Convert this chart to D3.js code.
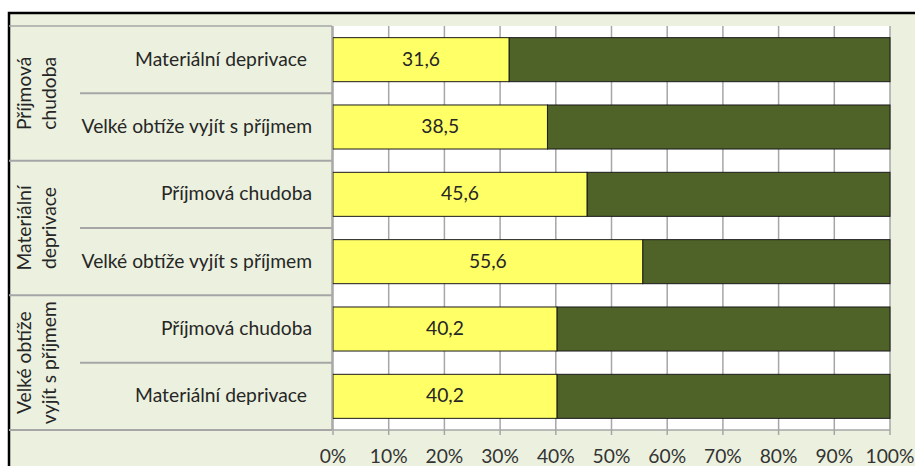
<!DOCTYPE html>
<html>
<head>
<meta charset="utf-8">
<script src="https://cdn.jsdelivr.net/npm/d3@7"></script>
<style>
  html, body { margin: 0; padding: 0; background: #fff; }
  svg { display: block; }
  text { font-family: Lato, "Open Sans", sans-serif; fill: #262626; }
</style>
</head>
<body>
<svg id="chart" width="915" height="466"></svg>
<script>
// ---- data ----
const groupLabels = [["Příjmová", "chudoba"], ["Materiální", "deprivace"], ["Velké obtíže", "vyjít s příjmem"]];
const categories = [
  "Materiální deprivace",
  "Velké obtíže vyjít s příjmem",
  "Příjmová chudoba",
  "Velké obtíže vyjít s příjmem",
  "Příjmová chudoba",
  "Materiální deprivace"
];
const groupOf = [0, 0, 1, 1, 2, 2];
const values = [31.6, 38.5, 45.6, 55.6, 40.2, 40.2];
const tickValues = [0, 10, 20, 30, 40, 50, 60, 70, 80, 90, 100];
const tickLabels = ["0%", "10%", "20%", "30%", "40%", "50%", "60%", "70%", "80%", "90%", "100%"];

// ---- layout ----
const W = 915, H = 466;
const plotL = 333, plotR = 890, plotT = 26, plotB = 430;
const panelL = 9, subL = 80;
const beige = "#EBF1DE", yellow = "#FFFF66", green = "#4F6228", grid = "#A6A6A6", sep = "#A6A6A6";

const svg = d3.select("#chart");

// fit font size to Calibri-like metrics
const probe = svg.append("text").attr("font-size", 20).text("Materiální deprivace");
const fs = Math.min(21, 20 * 172 / probe.node().getComputedTextLength());
probe.remove();

const x = d3.scaleLinear().domain([0, 100]).range([plotL, plotR]);
const y = d3.scaleBand().domain(d3.range(categories.length)).range([plotT, plotB])
  .paddingInner(0.346).paddingOuter(0.173);

// frame
svg.append("rect").attr("x", 0).attr("y", 0).attr("width", W).attr("height", H).attr("fill", "#fff");
svg.append("rect").attr("x", panelL).attr("y", 13).attr("width", W + 20).attr("height", H + 20)
  .attr("fill", beige).attr("stroke", "#000").attr("stroke-width", 2.5);

// plot background
svg.append("rect").attr("x", plotL).attr("y", plotT).attr("width", plotR - plotL).attr("height", plotB - plotT)
  .attr("fill", "#fff");

// gridlines / ticks
svg.append("g").selectAll("line").data(tickValues).join("line")
  .attr("x1", d => x(d)).attr("x2", d => x(d))
  .attr("y1", plotT).attr("y2", plotB + 5)
  .attr("stroke", grid).attr("stroke-width", 1.5);
svg.append("line").attr("x1", plotL).attr("x2", plotR).attr("y1", plotB).attr("y2", plotB)
  .attr("stroke", grid).attr("stroke-width", 1.5);

// tick labels
svg.append("g").selectAll("text").data(tickValues).join("text")
  .attr("x", d => x(d)).attr("y", 458)
  .attr("text-anchor", "middle").attr("dominant-baseline", "middle")
  .attr("font-size", fs).style("fill", "#333")
  .text((d, i) => tickLabels[i]);

// bars
const bars = svg.append("g");
bars.selectAll("rect.rest").data(values).join("rect").attr("class", "rest")
  .attr("x", d => x(d)).attr("width", d => x(100) - x(d))
  .attr("y", (d, i) => y(i)).attr("height", y.bandwidth())
  .attr("fill", green).attr("stroke", "#1a1a1a").attr("stroke-width", 1);
bars.selectAll("rect.val").data(values).join("rect").attr("class", "val")
  .attr("x", x(0)).attr("width", d => x(d) - x(0))
  .attr("y", (d, i) => y(i)).attr("height", y.bandwidth())
  .attr("fill", yellow).attr("stroke", "#1a1a1a").attr("stroke-width", 1);
bars.selectAll("text").data(values).join("text")
  .attr("x", d => (x(0) + x(d)) / 2).attr("y", (d, i) => y(i) + y.bandwidth() / 2 + 1)
  .attr("text-anchor", "middle").attr("dominant-baseline", "middle")
  .attr("font-size", fs)
  .text(d => d.toFixed(1).replace(".", ","));

// left category panel
const step = y.step();
const panel = svg.append("g");
const rowTop = i => plotT + i * (plotB - plotT) / categories.length;
const rowH = (plotB - plotT) / categories.length;

panel.append("line").attr("x1", panelL).attr("x2", plotL - 1).attr("y1", plotT).attr("y2", plotT)
  .attr("stroke", sep).attr("stroke-width", 1.5);
panel.append("line").attr("x1", plotL - 1).attr("x2", plotL - 1).attr("y1", plotT).attr("y2", plotB)
  .attr("stroke", sep).attr("stroke-width", 1.5);

// row separators
categories.forEach((c, i) => {
  const yb = rowTop(i + 1);
  const isGroupEnd = i === categories.length - 1 || groupOf[i + 1] !== groupOf[i];
  panel.append("line")
    .attr("x1", isGroupEnd ? panelL : subL).attr("x2", plotL - 1)
    .attr("y1", yb).attr("y2", yb)
    .attr("stroke", sep).attr("stroke-width", 2);
});

// subcategory labels
panel.selectAll("text.sub").data(categories).join("text").attr("class", "sub")
  .attr("x", d => d === "Materiální deprivace" ? 307 : 312)
  .attr("y", (d, i) => rowTop(i) + rowH / 2 + 1)
  .attr("text-anchor", "end").attr("dominant-baseline", "middle")
  .attr("font-size", fs)
  .text(d => d);

// group labels (rotated)
groupLabels.forEach((lines, g) => {
  const idx = groupOf.map((v, i) => v === g ? i : -1).filter(i => i >= 0);
  const cy = (rowTop(idx[0]) + rowTop(idx[idx.length - 1] + 1)) / 2;
  lines.forEach((ln, k) => {
    panel.append("text")
      .attr("transform", `translate(${26 + k * 25},${cy}) rotate(-90)`)
      .attr("text-anchor", "middle").attr("dominant-baseline", "middle")
      .attr("font-size", fs)
      .text(ln);
  });
});
</script>
</body>
</html>
